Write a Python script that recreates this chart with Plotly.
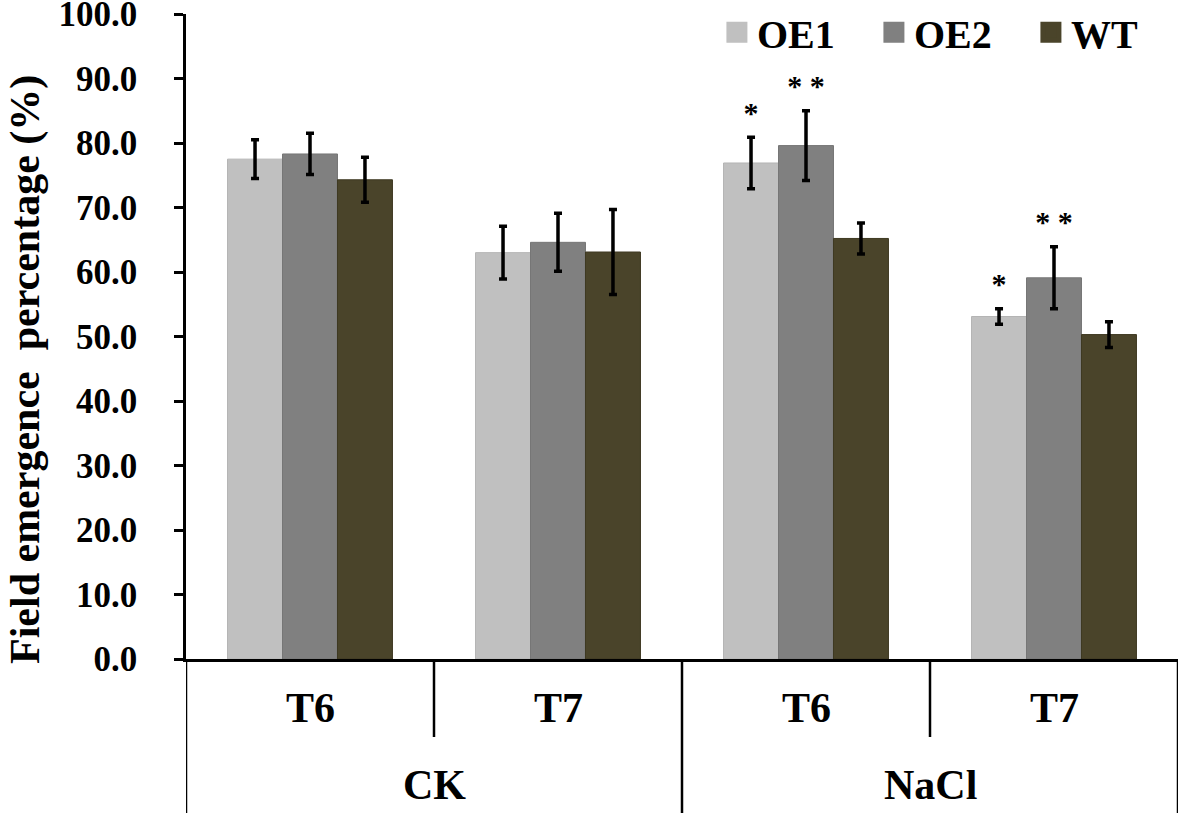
import plotly.graph_objects as go

# ---- data ----
treatments = ["CK", "CK", "NaCl", "NaCl"]
stages = ["T6", "T7", "T6", "T7"]
series_names = ["OE1", "OE2", "WT"]
oe1_vals = [77.5, 63.0, 76.9, 53.1]
oe2_vals = [78.3, 64.6, 79.6, 59.1]
wt_vals = [74.3, 63.1, 65.2, 50.3]
oe1_err = [3.0, 4.1, 4.0, 1.2]
oe2_err = [3.2, 4.5, 5.4, 4.8]
wt_err = [3.5, 6.6, 2.4, 2.0]
oe1_sig = ["", "", "*", "*"]
oe2_sig = ["", "", "* *", "* *"]
y_ticks = [0, 10, 20, 30, 40, 50, 60, 70, 80, 90, 100]

colors = ["#C0C0C0", "#808080", "#4A442A"]
edge = ["#B4B4B4", "#767676", "#3E3922"]
FONT = "Liberation Serif"

W, H = 1181, 816
ML, MR, MT, MB = 186, 3, 14, 157
plot_h = H - MT - MB
bargap = 0.335
n_series = 3
bar_w = (1 - bargap) / n_series

xs = list(range(len(stages)))
vals = [oe1_vals, oe2_vals, wt_vals]
errs = [oe1_err, oe2_err, wt_err]

fig = go.Figure()
for i, name in enumerate(series_names):
    fig.add_trace(go.Bar(
        x=xs, y=vals[i], name=name, showlegend=False,
        marker=dict(color=colors[i], line=dict(color=edge[i], width=1)),
        error_y=dict(type="data", array=errs[i], visible=True,
                     color="black", thickness=3.5, width=4),
    ))
    # legend proxy
    fig.add_trace(go.Scatter(
        x=[None], y=[None], mode="markers", name=name,
        marker=dict(symbol="square", size=16, color=colors[i],
                    line=dict(color=colors[i], width=5)),
    ))

# significance stars
star_pad = 3.4
for i, sig in enumerate([oe1_sig, oe2_sig]):
    off = (i - 1) * bar_w
    sx, sy, st = [], [], []
    for k in xs:
        if sig[k]:
            sx.append(k + off)
            sy.append(vals[i][k] + errs[i][k] + star_pad)
            st.append(sig[k])
    fig.add_trace(go.Scatter(
        x=sx, y=sy, mode="text", text=st, showlegend=False,
        textposition="middle center",
        textfont=dict(family=FONT, size=30, color="black", weight="bold"),
        hoverinfo="skip",
    ))

annotations = []
# inner labels
for k in xs:
    annotations.append(dict(
        x=k, y=0, xref="x", yref="paper", text=stages[k], showarrow=False,
        yshift=-49, yanchor="middle", xanchor="center",
        font=dict(family=FONT, size=42, color="black", weight="bold")))
# outer labels
groups = []
for k, t in enumerate(treatments):
    if not groups or groups[-1][0] != t:
        groups.append([t, k, k])
    else:
        groups[-1][2] = k
for t, a, b in groups:
    annotations.append(dict(
        x=(a + b) / 2, y=0, xref="x", yref="paper", text=t, showarrow=False,
        yshift=-126, yanchor="middle", xanchor="center",
        font=dict(family=FONT, size=42, color="black", weight="bold")))
# y title
annotations.append(dict(
    x=-(ML - 25) / (W - ML - MR), y=1 - (370 - MT) / plot_h,
    xref="paper", yref="paper",
    text="Field emergence  percentage (%)", textangle=-90, showarrow=False,
    xanchor="center", yanchor="middle",
    font=dict(family=FONT, size=42, color="black", weight="bold")))

shapes = []
full_len = -(813 - (H - MB)) / plot_h
short_len = -(737 - (H - MB)) / plot_h
bounds = [k - 0.5 for k in xs] + [xs[-1] + 0.5]
for j, bx in enumerate(bounds):
    is_group_edge = (j == 0 or j == len(xs) or treatments[j] != treatments[j - 1])
    shapes.append(dict(
        type="line", xref="x", yref="paper", x0=bx, x1=bx, y0=0,
        y1=full_len if is_group_edge else short_len,
        line=dict(color="black", width=2.5)))

fig.update_layout(
    width=W, height=H,
    margin=dict(l=ML, r=MR, t=MT, b=MB, pad=0, autoexpand=False),
    plot_bgcolor="white", paper_bgcolor="white",
    barmode="group", bargap=bargap, bargroupgap=0,
    showlegend=True,
    legend=dict(orientation="h", x=1.01, xanchor="right", y=1.022, yanchor="top",
                font=dict(family=FONT, size=40, color="black", weight="bold"),
                itemsizing="trace", entrywidth=112,
                bgcolor="rgba(0,0,0,0)"),
    xaxis=dict(range=[-0.5, len(xs) - 0.5], showline=True, linecolor="black",
               linewidth=2.5, showticklabels=False, ticks="", showgrid=False,
               zeroline=False),
    yaxis=dict(range=[0, 100], tickvals=y_ticks, tickformat=".1f",
               showline=True, linecolor="black", linewidth=2.5,
               ticks="outside", ticklen=9, tickwidth=2.5, tickcolor="black",
               showgrid=False, zeroline=False, ticklabelstandoff=30,
               ticklabeloverflow="allow",
               tickfont=dict(family=FONT, size=35, color="black", weight="bold")),
    annotations=annotations,
    shapes=shapes,
)

fig.write_html(
    "out.html",
    config={"displayModeBar": False},
    post_script="document.body.style.margin='0';document.body.style.overflow='hidden';",
)
